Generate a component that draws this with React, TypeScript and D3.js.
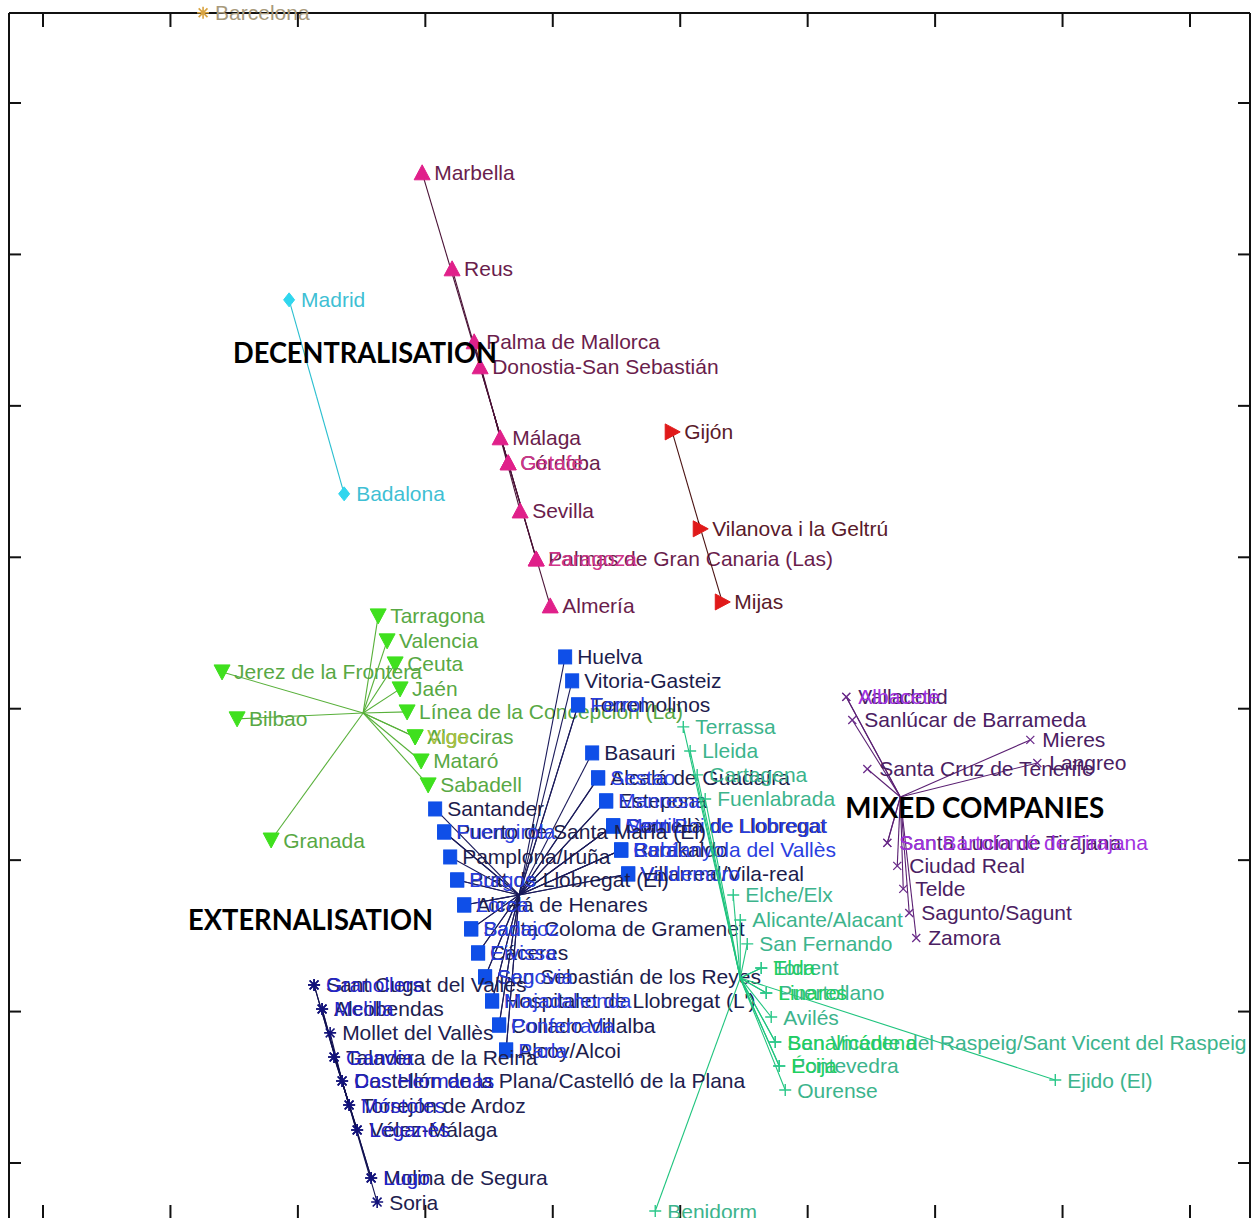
import React from "react";
import * as d3 from "d3";

type Pt = [string, number, number];

// ---- Group members: [city, dimension 1, dimension 2] ----
const barcelonaPts: Pt[] = [["Barcelona", 1.256, 7.596]];

const capitalPts: Pt[] = [
  ["Madrid", 1.931, 5.7],
  ["Badalona", 2.363, 4.419],
];

const decentralPts: Pt[] = [
  ["Marbella", 2.975, 6.539],
  ["Reus", 3.21, 5.905],
  ["Palma de Mallorca", 3.383, 5.423],
  ["Donostia-San Sebastián", 3.43, 5.258],
  ["Málaga", 3.587, 4.789],
  ["Córdoba", 3.65, 4.624],
  ["Getafe", 3.65, 4.624],
  ["Sevilla", 3.744, 4.306],
  ["Palmas de Gran Canaria (Las)", 3.87, 3.989],
  ["Zaragoza", 3.87, 3.989],
  ["Almería", 3.98, 3.679],
];

const northPts: Pt[] = [
  ["Gijón", 4.937, 4.828],
  ["Vilanova i la Geltrú", 5.157, 4.188],
  ["Mijas", 5.33, 3.705],
];

const greenPts: Pt[] = [
  ["Tarragona", 2.63, 3.613],
  ["Valencia", 2.7, 3.448],
  ["Ceuta", 2.763, 3.296],
  ["Jerez de la Frontera", 1.405, 3.243],
  ["Jaén", 2.802, 3.131],
  ["Línea de la Concepción (La)", 2.857, 2.979],
  ["Bilbao", 1.523, 2.933],
  ["Algeciras", 2.92, 2.814],
  ["Vigo", 2.92, 2.814],
  ["Mataró", 2.967, 2.655],
  ["Sabadell", 3.022, 2.497],
  ["Granada", 1.79, 2.133],
];

const externalPts: Pt[] = [
  ["Huelva", 4.097, 3.342],
  ["Vitoria-Gasteiz", 4.152, 3.184],
  ["Torremolinos", 4.199, 3.025],
  ["Ferrol", 4.199, 3.025],
  ["Basauri", 4.309, 2.708],
  ["Alcalá de Guadaíra", 4.356, 2.543],
  ["Sestao", 4.356, 2.543],
  ["Estepona", 4.419, 2.391],
  ["Manresa", 4.419, 2.391],
  ["Cornellà de Llobregat", 4.474, 2.226],
  ["Sant Boi de Llobregat", 4.474, 2.226],
  ["Motril", 4.474, 2.226],
  ["Barakaldo", 4.537, 2.067],
  ["Rubí", 4.537, 2.067],
  ["Cerdanyola del Vallès", 4.537, 2.067],
  ["Villarreal/Vila-real", 4.592, 1.909],
  ["Valdemoro", 4.592, 1.909],
  ["Santander", 3.077, 2.338],
  ["Puerto de Santa María (El)", 3.148, 2.186],
  ["Fuengirola", 3.148, 2.186],
  ["Pamplona/Iruña", 3.195, 2.021],
  ["Prat de Llobregat (El)", 3.25, 1.869],
  ["Burgos", 3.25, 1.869],
  ["Alcalá de Henares", 3.305, 1.704],
  ["Lorca", 3.305, 1.704],
  ["Santa Coloma de Gramenet", 3.36, 1.546],
  ["Badajoz", 3.36, 1.546],
  ["Cáceres", 3.414, 1.387],
  ["Eivissa", 3.414, 1.387],
  ["San Sebastián de los Reyes", 3.469, 1.229],
  ["Segovia", 3.469, 1.229],
  ["Hospitalet de Llobregat (L')", 3.524, 1.07],
  ["Majadahonda", 3.524, 1.07],
  ["Collado Villalba", 3.579, 0.911],
  ["Ponferrada", 3.579, 0.911],
  ["Alcoy/Alcoi", 3.634, 0.746],
  ["Parla", 3.634, 0.746],
];

const plusPts: Pt[] = [
  ["Terrassa", 5.024, 2.88],
  ["Lleida", 5.078, 2.721],
  ["Cartagena", 5.133, 2.563],
  ["Fuenlabrada", 5.196, 2.404],
  ["Elche/Elx", 5.416, 1.77],
  ["Alicante/Alacant", 5.471, 1.605],
  ["San Fernando", 5.526, 1.447],
  ["Torrent", 5.636, 1.288],
  ["Elda", 5.636, 1.288],
  ["Puertollano", 5.675, 1.123],
  ["Linares", 5.675, 1.123],
  ["Avilés", 5.714, 0.964],
  ["San Vicente del Raspeig/Sant Vicent del Raspeig", 5.746, 0.799],
  ["Benalmádena", 5.746, 0.799],
  ["Pontevedra", 5.777, 0.641],
  ["Écija", 5.777, 0.641],
  ["Ourense", 5.824, 0.482],
  ["Ejido (El)", 7.943, 0.548],
  ["Benidorm", 4.804, -0.317],
];

const mixedPts: Pt[] = [
  ["Valladolid", 6.303, 3.078],
  ["Albacete", 6.303, 3.078],
  ["Sanlúcar de Barrameda", 6.35, 2.926],
  ["Mieres", 7.747, 2.794],
  ["Langreo", 7.802, 2.642],
  ["Santa Cruz de Tenerife", 6.468, 2.602],
  ["Santa Lucía de Tirajana", 6.625, 2.114],
  ["San Bartolomé de Tirajana", 6.625, 2.114],
  ["Ciudad Real", 6.703, 1.962],
  ["Telde", 6.75, 1.81],
  ["Sagunto/Sagunt", 6.797, 1.651],
  ["Zamora", 6.852, 1.486],
];

const starPts: Pt[] = [
  ["Sant Cugat del Vallès", 2.127, 1.176],
  ["Granollers", 2.127, 1.176],
  ["Alcobendas", 2.19, 1.017],
  ["Melilla", 2.19, 1.017],
  ["Mollet del Vallès", 2.253, 0.859],
  ["Talavera de la Reina", 2.284, 0.7],
  ["Gandia", 2.284, 0.7],
  ["Castellón de la Plana/Castelló de la Plana", 2.347, 0.542],
  ["Dos Hermanas", 2.347, 0.542],
  ["Torrejón de Ardoz", 2.402, 0.383],
  ["Móstoles", 2.402, 0.383],
  ["Vélez-Málaga", 2.465, 0.218],
  ["Leganés", 2.465, 0.218],
  ["Molina de Segura", 2.575, -0.099],
  ["Lugo", 2.575, -0.099],
  ["Soria", 2.622, -0.258],
];

// ---- Group centres (where the member spokes meet) ----
const capitalCentre: [number, number] = [2.147, 5.06];
const decentralCentre: [number, number] = [3.54, 4.941];
const northCentre: [number, number] = [5.141, 4.24];
const greenCentre: [number, number] = [2.512, 2.972];
const externalCentre: [number, number] = [3.736, 1.77];
const plusCentre: [number, number] = [5.471, 1.222];
const mixedCentre: [number, number] = [6.727, 2.417];
const starCentre: [number, number] = [2.355, 0.515];

// ---- Axis ticks ----
const xTicks = [0, 1, 2, 3, 4, 5, 6, 7, 8, 9];
const yTicks = [0, 1, 2, 3, 4, 5, 6, 7];

// ---- Cluster captions ----
const captionText = ["DECENTRALISATION", "EXTERNALISATION", "MIXED COMPANIES"];
const captionX = [1.491, 1.138, 6.295];
const captionY = [5.284, 1.539, 2.279];

type MarkerKind = "star" | "diamond" | "triUp" | "triDown" | "triRight" | "square" | "plus" | "cross";

interface GroupStyle {
  pts: Pt[];
  centre: [number, number] | null;
  marker: MarkerKind;
  markerColor: string;
  lineColor: string;
  textColor: string;
  accentColor: string;
}

const groups: GroupStyle[] = [
  { pts: barcelonaPts, centre: null, marker: "star", markerColor: "#d9a441", lineColor: "#d9a441", textColor: "#a89a7c", accentColor: "#a89a7c" },
  { pts: capitalPts, centre: capitalCentre, marker: "diamond", markerColor: "#2fd6ee", lineColor: "#2bbfd0", textColor: "#3fbfd4", accentColor: "#3fbfd4" },
  { pts: decentralPts, centre: decentralCentre, marker: "triUp", markerColor: "#e0208a", lineColor: "#4a1236", textColor: "#6a1d4c", accentColor: "#d0358a" },
  { pts: northPts, centre: northCentre, marker: "triRight", markerColor: "#e01a1a", lineColor: "#4a1212", textColor: "#5a1a2a", accentColor: "#c02020" },
  { pts: greenPts, centre: greenCentre, marker: "triDown", markerColor: "#3fe01e", lineColor: "#58b03a", textColor: "#58a844", accentColor: "#a8c040" },
  { pts: externalPts, centre: externalCentre, marker: "square", markerColor: "#0f4fe8", lineColor: "#1a1a5a", textColor: "#1c1c4c", accentColor: "#2a3ee0" },
  { pts: plusPts, centre: plusCentre, marker: "plus", markerColor: "#2cc88a", lineColor: "#1fc47e", textColor: "#3cb48c", accentColor: "#20d060" },
  { pts: mixedPts, centre: mixedCentre, marker: "cross", markerColor: "#6a2a8a", lineColor: "#5a1f72", textColor: "#4a2062", accentColor: "#a232e0" },
  { pts: starPts, centre: starCentre, marker: "star", markerColor: "#12127a", lineColor: "#101050", textColor: "#20204e", accentColor: "#2424c8" },
];

const W = 1253;
const H = 1218;
const plotLeft = 9;
const plotRight = 1250;
const plotTop = 13;
const plotBottom = 1219;

const x = d3.scaleLinear().domain([0, 9]).range([43, 1190]);
const y = d3.scaleLinear().domain([0, 7]).range([1163, 103]);

function Marker({ kind, cx, cy, color }: { kind: MarkerKind; cx: number; cy: number; color: string }) {
  switch (kind) {
    case "star": {
      const r = 6, d = 4.4;
      const p = d3.path();
      p.moveTo(cx - r, cy); p.lineTo(cx + r, cy);
      p.moveTo(cx, cy - r); p.lineTo(cx, cy + r);
      p.moveTo(cx - d, cy - d); p.lineTo(cx + d, cy + d);
      p.moveTo(cx - d, cy + d); p.lineTo(cx + d, cy - d);
      return <path d={p.toString()} stroke={color} strokeWidth={1.6} fill="none" />;
    }
    case "diamond":
      return <polygon points={`${cx},${cy - 7} ${cx + 5.5},${cy} ${cx},${cy + 7} ${cx - 5.5},${cy}`} fill={color} stroke={color} strokeWidth={1} />;
    case "triUp":
      return <polygon points={`${cx},${cy - 8} ${cx + 8},${cy + 7} ${cx - 8},${cy + 7}`} fill={color} stroke={color} strokeWidth={1} />;
    case "triDown":
      return <polygon points={`${cx - 8},${cy - 7} ${cx + 8},${cy - 7} ${cx},${cy + 8}`} fill={color} stroke={color} strokeWidth={1} />;
    case "triRight":
      return <polygon points={`${cx - 7},${cy - 8} ${cx + 8},${cy} ${cx - 7},${cy + 8}`} fill={color} stroke={color} strokeWidth={1} />;
    case "square":
      return <rect x={cx - 6.5} y={cy - 7} width={13} height={14} fill={color} stroke={color} strokeWidth={1} />;
    case "plus": {
      const p = d3.path();
      p.moveTo(cx - 6, cy); p.lineTo(cx + 6, cy);
      p.moveTo(cx, cy - 6); p.lineTo(cx, cy + 6);
      return <path d={p.toString()} stroke={color} strokeWidth={1.4} fill="none" />;
    }
    case "cross": {
      const r = 4;
      const p = d3.path();
      p.moveTo(cx - r, cy - r); p.lineTo(cx + r, cy + r);
      p.moveTo(cx - r, cy + r); p.lineTo(cx + r, cy - r);
      return <path d={p.toString()} stroke={color} strokeWidth={1.3} fill="none" />;
    }
  }
  return null;
}

function Group({ g }: { g: GroupStyle }) {
  const seen = new Set<string>();
  return (
    <g>
      {g.centre &&
        g.pts.map(([name, px, py], i) => (
          <line
            key={"l" + i}
            x1={x(g.centre![0])}
            y1={y(g.centre![1])}
            x2={x(px)}
            y2={y(py)}
            stroke={g.lineColor}
            strokeWidth={1.1}
          />
        ))}
      {g.pts.map(([name, px, py], i) => (
        <Marker key={"m" + i} kind={g.marker} cx={x(px)} cy={y(py)} color={g.markerColor} />
      ))}
      {g.pts.map(([name, px, py], i) => {
        const k = `${px},${py}`;
        const repeat = seen.has(k);
        seen.add(k);
        return (
          <text
            key={"t" + i}
            x={x(px) + 12}
            y={y(py) + 7.5}
            fill={repeat ? g.accentColor : g.textColor}
            fontSize={21}
            fontFamily="'Liberation Sans', Arial, sans-serif"
          >
            {name}
          </text>
        );
      })}
    </g>
  );
}

const captionWidths = [264, 245, 259];

export default function App() {
  return (
    <svg
      width={W}
      height={H}
      viewBox={`0 0 ${W} ${H}`}
      style={{ position: "absolute", left: 0, top: 0, background: "#ffffff" }}
    >
      <rect x={0} y={0} width={W} height={H} fill="#ffffff" />
      {/* axes box */}
      <g stroke="#111" strokeWidth={2} fill="none">
        <line x1={plotLeft} y1={plotTop} x2={plotRight} y2={plotTop} />
        <line x1={plotLeft} y1={plotTop} x2={plotLeft} y2={plotBottom} />
        <line x1={plotRight} y1={plotTop} x2={plotRight} y2={plotBottom} />
        <line x1={plotLeft} y1={plotBottom} x2={plotRight} y2={plotBottom} />
        {xTicks.map((t) => (
          <g key={"xt" + t}>
            <line x1={x(t)} x2={x(t)} y1={plotTop} y2={plotTop + 14} />
            <line x1={x(t)} x2={x(t)} y1={plotBottom} y2={plotBottom - 14} />
          </g>
        ))}
        {yTicks.map((t) => (
          <g key={"yt" + t}>
            <line x1={plotLeft} x2={plotLeft + 12} y1={y(t)} y2={y(t)} />
            <line x1={plotRight} x2={plotRight - 12} y1={y(t)} y2={y(t)} />
          </g>
        ))}
      </g>
      {groups.map((g, i) => (
        <Group key={i} g={g} />
      ))}
      {captionText.map((c, i) => (
        <text
          key={c}
          x={x(captionX[i])}
          y={y(captionY[i])}
          fontFamily="Lato, 'Open Sans', sans-serif"
          fontWeight={700}
          fontSize={28}
          fill="#000"
          textLength={captionWidths[i]}
          lengthAdjust="spacingAndGlyphs"
        >
          {c}
        </text>
      ))}
    </svg>
  );
}
